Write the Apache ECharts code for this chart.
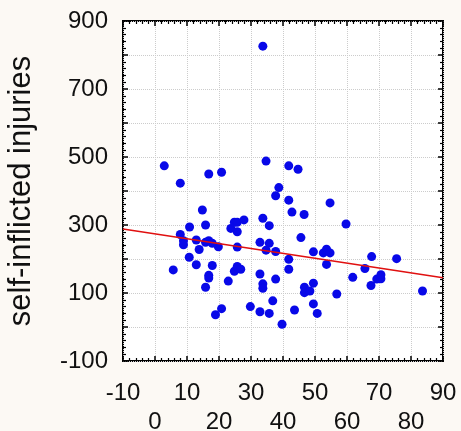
<!DOCTYPE html>
<html>
<head>
<meta charset="utf-8">
<script src="https://cdn.jsdelivr.net/npm/echarts@6/dist/echarts.min.js"></script>
<style>
  html, body { margin: 0; padding: 0; background: #fcf9f4; }
  #chart { width: 461px; height: 431px; }
</style>
</head>
<body>
<div id="chart"></div>
<script>
// x values and self-inflicted injuries
const xs = [2.9, 7.9, 5.7, 7.9, 8.9, 8.9, 10.8, 12.9, 13.8, 10.7, 12.9, 14.8, 15.8, 16.8, 20.8,
  15.8, 16.8, 17.9, 19.8, 17.9, 16.8, 16.8, 15.8, 18.9, 20.8, 22.9, 23.7, 24.8, 25.7, 25.7,
  27.8, 25.7, 24.8, 25.7, 26.8, 29.8, 32.8, 35.7, 39.7, 33.7, 35.7, 32.8, 35.7, 34.7, 37.7,
  32.8, 33.7, 33.7, 36.8, 37.7, 34.7, 33.7, 41.8, 44.7, 38.7, 37.7, 41.8, 42.8, 46.6, 54.7,
  45.6, 49.5, 52.6, 53.6, 54.7, 53.6, 41.8, 41.8, 43.6, 49.5, 50.7, 49.5, 46.7, 46.7, 48.4,
  56.8, 59.7, 61.8, 65.6, 67.7, 67.5, 69.3, 70.6, 70.6, 75.5, 83.6];
const ys = [474, 423, 168, 272, 254, 242, 294, 256, 228, 205, 183, 344, 300, 450, 455,
  249, 254, 246, 236, 181, 152, 144, 117, 36, 54, 135, 290, 308, 308, 280,
  315, 235, 164, 178, 170, 60, 45, 40, 8, 320, 298, 249, 246, 226, 222,
  156, 127, 114, 77, 141, 488, 826, 474, 464, 410, 386, 373, 338, 331, 365,
  263, 221, 218, 229, 218, 184, 199, 170, 50, 68, 40, 129, 117, 101, 106,
  97, 303, 146, 172, 207, 122, 141, 142, 154, 201, 106];
// fitted line end points
const fitX = [-10, 90];
const fitY = [288, 145];

const points = xs.map((x, i) => [x, ys[i]]);
const fit = fitX.map((x, i) => [x, fitY[i]]);

const font = 'Liberation Sans, Arial, sans-serif';
const lineOff = { show: false, onZero: false };
const tickStyle = { show: true, inside: true, length: 5, lineStyle: { color: '#000', width: 1.5 } };
const minorStyle = { show: true, splitNumber: 5, length: 3, lineStyle: { color: '#000', width: 1.2 } };
const gridStyle = { show: true, lineStyle: { color: '#cccccc', type: 'dotted', width: 1 } };

const chart = echarts.init(document.getElementById('chart'));
chart.setOption({
  backgroundColor: '#fcf9f4',
  animation: false,
  grid: {
    left: 123, right: 18, top: 21, bottom: 70, outerBoundsMode: 'none',
    show: true, backgroundColor: '#fff', borderColor: '#000', borderWidth: 2
  },
  xAxis: [{
    type: 'value', min: -10, max: 90, interval: 10, position: 'bottom',
    axisLine: lineOff,
    axisTick: tickStyle, minorTick: minorStyle,
    splitLine: gridStyle,
    axisLabel: {
      color: '#111', fontSize: 24, fontFamily: font, margin: 18, lineHeight: 29,
      formatter: v => (v % 20 === 0 ? '\n' + v : String(v))
    }
  }, {
    type: 'value', min: -10, max: 90, interval: 10, position: 'top',
    axisLine: lineOff, axisTick: tickStyle, minorTick: minorStyle,
    splitLine: { show: false }, axisLabel: { show: false }
  }],
  yAxis: [{
    type: 'value', min: -100, max: 900, interval: 100, position: 'left',
    name: 'self-inflicted injuries', nameLocation: 'middle', nameGap: 86,
    nameTextStyle: { color: '#111', fontSize: 31, fontFamily: font },
    axisLine: lineOff,
    axisTick: tickStyle, minorTick: minorStyle,
    splitLine: gridStyle,
    axisLabel: {
      color: '#111', fontSize: 24, fontFamily: font, margin: 15,
      formatter: v => ((v + 100) % 200 === 0 ? String(v) : '')
    }
  }, {
    type: 'value', min: -100, max: 900, interval: 100, position: 'right',
    axisLine: lineOff, axisTick: tickStyle, minorTick: minorStyle,
    splitLine: { show: false }, axisLabel: { show: false }
  }],
  series: [{
    type: 'scatter', data: points, symbolSize: 9,
    itemStyle: { color: '#0808e8', opacity: 1 }
  }, {
    type: 'line', data: fit, symbol: 'none',
    lineStyle: { color: '#e01010', width: 1.5 }
  }]
});
</script>
</body>
</html>
